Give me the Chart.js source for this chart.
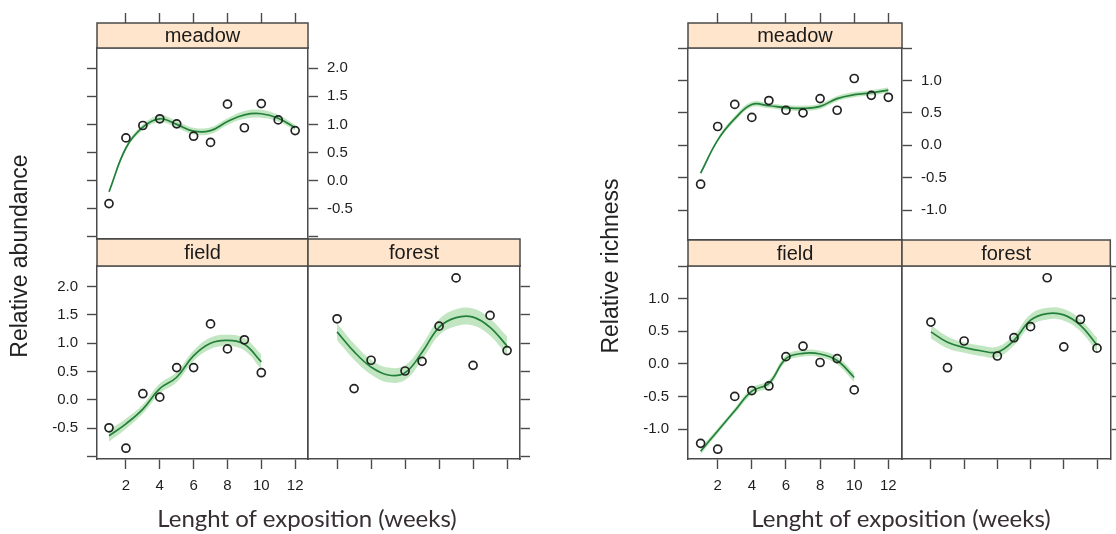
<!DOCTYPE html>
<html>
<head>
<meta charset="utf-8">
<script src="https://cdn.jsdelivr.net/npm/chart.js@4.4.1/dist/chart.umd.min.js"></script>
<style>
html, body { margin: 0; padding: 0; background: #fff; }
#wrap { position: relative; width: 1116px; height: 534px; overflow: hidden; }
#wrap canvas { position: absolute; left: 0; top: 0; }
.ytitle { position: absolute; width: 300px; height: 26px; line-height: 26px; text-align: center;
  font: 23px "Liberation Sans", Arial, sans-serif; color: #222; transform: rotate(-90deg); }
.xtitle { position: absolute; width: 400px; height: 28px; line-height: 28px; text-align: center;
  font: 24px Lato, "Open Sans", sans-serif; color: #362e33; }
</style>
</head>
<body>
<div id="wrap">
  <canvas id="abMeadow" width="1116" height="534"></canvas>
  <canvas id="abField" width="1116" height="534"></canvas>
  <canvas id="abForest" width="1116" height="534"></canvas>
  <canvas id="riMeadow" width="1116" height="534"></canvas>
  <canvas id="riField" width="1116" height="534"></canvas>
  <canvas id="riForest" width="1116" height="534"></canvas>
  <div class="ytitle" style="left:-131px; top:243px;">Relative abundance</div>
  <div class="ytitle" style="left:460px; top:253px;">Relative richness</div>
  <div class="xtitle" style="left:107px; top:503px;">Lenght of exposition (weeks)</div>
  <div class="xtitle" style="left:701px; top:503px;">Lenght of exposition (weeks)</div>
</div>
<script>
// weeks sampled in each habitat
const weeks = [1, 2, 3, 4, 5, 6, 7, 8, 9, 10, 11, 12];
const fieldWeeks = [1, 2, 3, 4, 5, 6, 7, 8, 9, 10];
const forestWeeks = [2, 3, 4, 6, 7, 8, 9, 10, 11, 12];
const forestFitWeeks = [2, 3, 4, 5, 6, 7, 8, 9, 10, 11, 12];

const weekTicks = [2, 4, 6, 8, 10, 12];
const weekTickLabels = ['2', '4', '6', '8', '10', '12'];
const abundTicks = [-1, -0.5, 0, 0.5, 1, 1.5, 2];
const abundTickLabels = ['', '-0.5', '0.0', '0.5', '1.0', '1.5', '2.0'];
const richTicks = [-1, -0.5, 0, 0.5, 1, 1.5];
const richTickLabels = ['-1.0', '-0.5', '0.0', '0.5', '1.0', ''];

// relative abundance
const abMeadowObs = [-0.41, 0.76, 0.98, 1.10, 1.01, 0.79, 0.68, 1.36, 0.94, 1.37, 1.08, 0.89];
const abMeadowFit = [-0.20, 0.58, 0.95, 1.10, 1.00, 0.88, 0.89, 1.05, 1.17, 1.19, 1.11, 0.94];
const abMeadowBand = [0.03, 0.04, 0.05, 0.06, 0.06, 0.06, 0.06, 0.06, 0.07, 0.07, 0.06, 0.05];

const abFieldObs = [-0.49, -0.85, 0.11, 0.05, 0.57, 0.57, 1.34, 0.90, 1.06, 0.48];
const abFieldFit = [-0.63, -0.42, -0.16, 0.20, 0.40, 0.78, 1.00, 1.05, 0.98, 0.67];
const abFieldBand = [0.10, 0.09, 0.08, 0.09, 0.09, 0.09, 0.10, 0.10, 0.11, 0.13];

const abForestObs = [1.43, 0.20, 0.70, 0.51, 0.68, 1.30, 2.15, 0.61, 1.49, 0.87];
const abForestFit = [1.20, 0.85, 0.58, 0.44, 0.48, 0.84, 1.28, 1.45, 1.46, 1.28, 0.95];
const abForestBand = [0.15, 0.14, 0.13, 0.13, 0.13, 0.13, 0.14, 0.15, 0.15, 0.15, 0.17];

// relative richness
const riMeadowObs = [-0.60, 0.29, 0.63, 0.43, 0.69, 0.54, 0.50, 0.72, 0.54, 1.03, 0.77, 0.74];
const riMeadowFit = [-0.43, 0.08, 0.41, 0.63, 0.61, 0.58, 0.57, 0.60, 0.72, 0.78, 0.81, 0.85];
const riMeadowBand = [0.03, 0.03, 0.04, 0.04, 0.04, 0.04, 0.04, 0.04, 0.04, 0.04, 0.04, 0.04];

const riFieldObs = [-1.22, -1.31, -0.50, -0.41, -0.34, 0.11, 0.27, 0.02, 0.08, -0.40];
const riFieldFit = [-1.34, -1.03, -0.72, -0.42, -0.30, 0.08, 0.16, 0.15, 0.05, -0.21];
const riFieldBand = [0.05, 0.04, 0.04, 0.05, 0.05, 0.05, 0.05, 0.05, 0.06, 0.07];

const riForestObs = [0.64, -0.06, 0.35, 0.12, 0.40, 0.57, 1.32, 0.26, 0.68, 0.24];
const riForestFit = [0.49, 0.33, 0.25, 0.20, 0.18, 0.36, 0.67, 0.77, 0.75, 0.59, 0.29];
const riForestBand = [0.10, 0.09, 0.08, 0.08, 0.08, 0.08, 0.09, 0.09, 0.09, 0.09, 0.11];

const W = 1116, H = 534;
const lineColor = '#4a4a4a';

const stripPlugin = {
  id: 'strip',
  afterDraw(chart, args, opts) {
    const a = chart.chartArea, c = chart.ctx;
    const top = a.top - opts.height;
    c.save();
    c.fillStyle = '#ffe5cc';
    c.fillRect(a.left, top, a.right - a.left, opts.height);
    c.strokeStyle = lineColor;
    c.lineWidth = 1.5;
    c.strokeRect(a.left, top, a.right - a.left, opts.height);
    c.fillStyle = '#1a1a1a';
    c.font = '20px "Liberation Sans", Arial, sans-serif';
    c.textAlign = 'center';
    c.textBaseline = 'middle';
    c.fillText(opts.text, (a.left + a.right) / 2, top + opts.height / 2 + 1);
    c.restore();
  }
};

function pts(xs, ys) {
  return xs.map((x, i) => ({ x: x, y: ys[i] }));
}

// room kept for an axis: labels need space (they are clipped to the axis box)
function axisSize(mode) {
  return mode === 'labels' ? 50 : 0;
}

// mode: 'none' = border only, 'ticks' = tick marks, 'labels' = ticks + labels
function axis(pos, range, tickVals, labels, mode, tickLen) {
  const vertical = pos === 'left' || pos === 'right';
  return {
    type: 'linear',
    position: pos,
    min: range[0],
    max: range[1],
    afterBuildTicks: s => { s.ticks = tickVals.map(v => ({ value: v })); },
    afterFit: s => { if (vertical) s.width = axisSize(mode); else s.height = axisSize(mode); },
    grid: {
      drawOnChartArea: false,
      drawTicks: mode !== 'none',
      tickLength: tickLen || 10,
      tickColor: lineColor,
      tickWidth: 1.4
    },
    border: { display: true, color: lineColor, width: 1.5 },
    ticks: {
      display: mode === 'labels',
      autoSkip: false,
      maxRotation: 0,
      padding: vertical ? 9 : 8,
      color: '#1e1e1e',
      font: { family: '"Liberation Sans", Arial, sans-serif', size: 15 },
      callback: (v, i) => labels[i]
    }
  };
}

function panel(id, area, name, stripH, xr, yr, yTicks, yLabels, sides, obsX, obsY, fitX, fitY, band) {
  const upper = fitY.map((v, i) => v + band[i]);
  const lower = fitY.map((v, i) => v - band[i]);
  return new Chart(document.getElementById(id), {
    type: 'line',
    plugins: [stripPlugin],
    data: {
      datasets: [
        { data: pts(obsX, obsY), showLine: false, pointStyle: 'circle', pointRadius: 4,
          borderColor: '#222', borderWidth: 1.7, backgroundColor: 'rgba(0,0,0,0)' },
        { data: pts(fitX, fitY), borderColor: '#23803a', borderWidth: 1.7, pointRadius: 0, tension: 0.4, fill: false },
        { data: pts(fitX, upper), borderColor: 'rgba(0,0,0,0)', borderWidth: 0, pointRadius: 0, tension: 0.4,
          fill: '+1', backgroundColor: 'rgba(120,200,120,0.45)' },
        { data: pts(fitX, lower), borderColor: 'rgba(0,0,0,0)', borderWidth: 0, pointRadius: 0, tension: 0.4, fill: false }
      ]
    },
    options: {
      responsive: false,
      animation: false,
      events: [],
      layout: {
        padding: {
          left: area[0] - axisSize(sides.left),
          top: area[1] - axisSize(sides.top),
          right: W - area[2] - axisSize(sides.right),
          bottom: H - area[3] - axisSize(sides.bottom)
        }
      },
      plugins: {
        legend: { display: false },
        tooltip: { enabled: false },
        strip: { text: name, height: stripH }
      },
      scales: {
        x: axis('bottom', xr, weekTicks, weekTickLabels, sides.bottom),
        x2: axis('top', xr, weekTicks, weekTickLabels, sides.top, 35),
        y: axis('left', yr, yTicks, yLabels, sides.left),
        y2: axis('right', yr, yTicks, yLabels, sides.right)
      }
    }
  });
}

const xLeft = [0.29, 12.76], xRight = [0.26, 12.8];
const yAbund = [-1.04, 2.36], yRich = [-1.46, 1.50];

panel('abMeadow', [97, 48, 308, 239], 'meadow', 25, xLeft, yAbund, abundTicks, abundTickLabels,
  { top: 'ticks', bottom: 'none', left: 'ticks', right: 'labels' },
  weeks, abMeadowObs, weeks, abMeadowFit, abMeadowBand);
panel('abField', [97, 266, 308, 459], 'field', 27, xLeft, yAbund, abundTicks, abundTickLabels,
  { top: 'none', bottom: 'labels', left: 'labels', right: 'none' },
  fieldWeeks, abFieldObs, fieldWeeks, abFieldFit, abFieldBand);
panel('abForest', [308, 266, 520, 459], 'forest', 27, xLeft, yAbund, abundTicks, abundTickLabels,
  { top: 'none', bottom: 'ticks', left: 'none', right: 'ticks' },
  forestWeeks, abForestObs, forestFitWeeks, abForestFit, abForestBand);

panel('riMeadow', [688, 48, 902, 240], 'meadow', 25, xRight, yRich, richTicks, richTickLabels,
  { top: 'ticks', bottom: 'none', left: 'ticks', right: 'labels' },
  weeks, riMeadowObs, weeks, riMeadowFit, riMeadowBand);
panel('riField', [688, 266, 902, 459], 'field', 26, xRight, yRich, richTicks, richTickLabels,
  { top: 'none', bottom: 'labels', left: 'labels', right: 'none' },
  fieldWeeks, riFieldObs, fieldWeeks, riFieldFit, riFieldBand);
panel('riForest', [902, 266, 1112, 459], 'forest', 26, xRight, yRich, richTicks, richTickLabels,
  { top: 'none', bottom: 'ticks', left: 'none', right: 'ticks' },
  forestWeeks, riForestObs, forestFitWeeks, riForestFit, riForestBand);
</script>
</body>
</html>
